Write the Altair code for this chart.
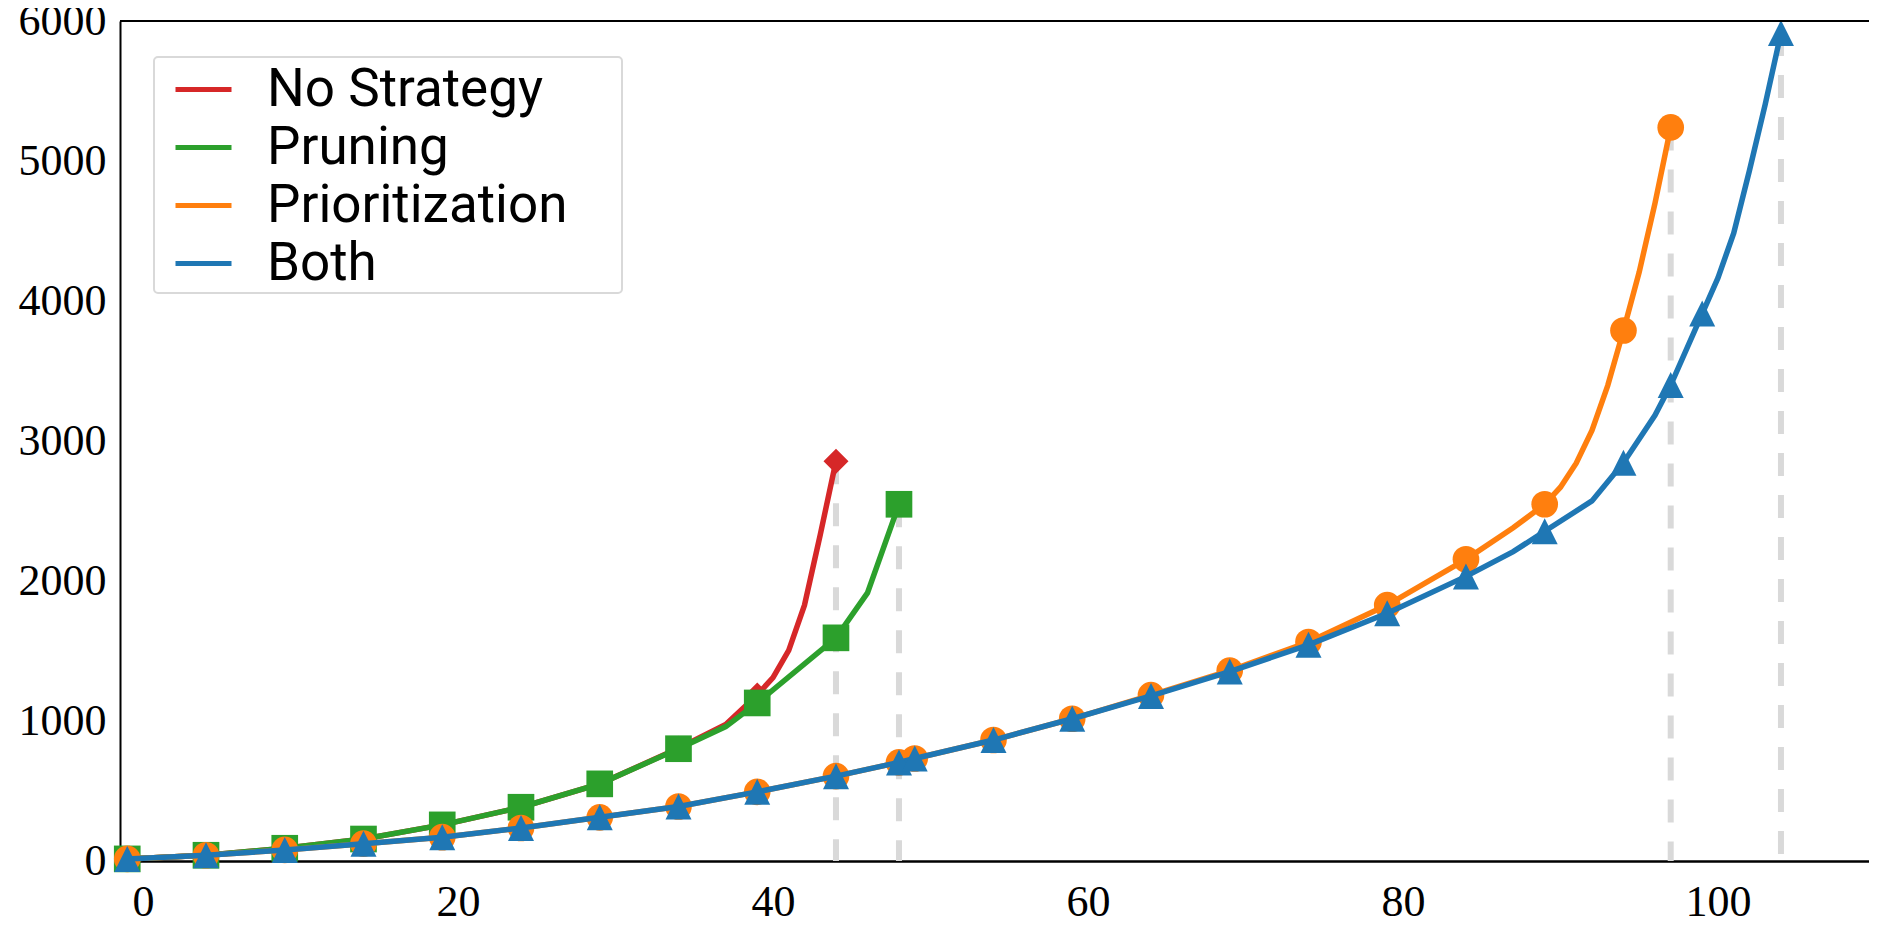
import altair as alt
import pandas as pd

series_names = ["No Strategy", "Pruning", "Prioritization", "Both"]
series_colors = ["#d62728", "#2ca02c", "#ff7f0e", "#1f77b4"]
series_shapes = ["diamond", "square", "circle", "M0,-1L-1,1L1,1Z"]
series_sizes = [625, 711, 711, 676]

red_x = [-1, 4, 9, 14, 19, 24, 29, 34, 37, 39, 40, 41, 42, 43, 44]
red_y = [15, 41, 91, 157, 258, 384, 551, 805, 975, 1186, 1310, 1505, 1827, 2330, 2856]
red_markers = [-1, 4, 9, 14, 19, 24, 29, 34, 39, 44]

green_x = [-1, 4, 9, 14, 19, 24, 29, 34, 37, 39, 44, 46, 48]
green_y = [15, 41, 91, 157, 258, 384, 551, 802, 960, 1129, 1594, 1915, 2548]
green_markers = [-1, 4, 9, 14, 19, 24, 29, 34, 39, 44, 48]

orange_x = [-1, 4, 9, 14, 19, 24, 29, 34, 39, 44, 48, 49, 54, 59, 64, 69, 74, 79,
            84, 87, 89, 90, 91, 92, 93, 94, 95, 96, 97]
orange_y = [15, 41, 79, 124, 170, 236, 312, 389, 494, 606, 704, 732, 864, 1016, 1185,
            1360, 1564, 1828, 2155, 2380, 2548, 2670, 2841, 3076, 3396, 3789, 4207,
            4698, 5240]
orange_markers = [-1, 4, 9, 14, 19, 24, 29, 34, 39, 44, 48, 49, 54, 59, 64, 69, 74,
                  79, 84, 89, 94, 97]

blue_x = [-1, 4, 9, 14, 19, 24, 29, 34, 39, 44, 48, 49, 54, 59, 64, 69, 74, 79, 84,
          87, 89, 92, 94, 96, 97, 99, 100, 101, 102, 103, 104]
blue_y = [15, 41, 79, 124, 170, 236, 312, 389, 494, 606, 704, 732, 864, 1016, 1179,
          1353, 1544, 1770, 2033, 2210, 2355, 2572, 2845, 3183, 3400, 3910, 4165,
          4484, 4932, 5404, 5914]
blue_markers = [-1, 4, 9, 14, 19, 24, 29, 34, 39, 44, 48, 49, 54, 59, 64, 69, 74, 79,
                84, 89, 94, 97, 99, 104]

x_ticks = [0, 20, 40, 60, 80, 100]
y_ticks = [0, 1000, 2000, 3000, 4000, 5000, 6000]

all_x = [red_x, green_x, orange_x, blue_x]
all_y = [red_y, green_y, orange_y, blue_y]
all_m = [red_markers, green_markers, orange_markers, blue_markers]

rows = []
for name, xs, ys, mk in zip(series_names, all_x, all_y, all_m):
    for xv, yv in zip(xs, ys):
        rows.append({"series": name, "x": xv, "y": yv, "marker": xv in mk})
df = pd.DataFrame(rows)
ends = df.groupby("series", sort=False).tail(1).reset_index(drop=True)
ends["y0"] = y_ticks[0]
top = pd.DataFrame({"y": [y_ticks[-1]]})

x_scale = alt.Scale(domain=[-1.46, 109.59], nice=False, zero=False)
y_scale = alt.Scale(domain=[0, 6000], nice=False, zero=False)

x_enc = alt.X("x:Q", scale=x_scale, title=None,
              axis=alt.Axis(values=x_ticks, format="d"))
y_enc = alt.Y("y:Q", scale=y_scale, title=None,
              axis=alt.Axis(values=y_ticks, format="d"))

pad_tail = "\u00a0\u2800"
legend = alt.Legend(
    orient="none", legendX=34, legendY=36, title=None,
    labelFont="Roboto", labelFontSize=53, labelColor="black", labelLimit=2000,
    symbolType="stroke", symbolStrokeWidth=5, symbolSize=3136,
    labelOffset=33, symbolOffset=17, rowPadding=-7,
    labelExpr=f"datum.label + '{pad_tail}'",
)
color_enc = alt.Color("series:N", scale=alt.Scale(domain=series_names, range=series_colors),
                      legend=legend, title=None)

rules = alt.Chart(ends).mark_rule(color="#d9d9d9", strokeWidth=6, strokeDash=[23, 19]).encode(
    x=x_enc, y=y_enc, y2=alt.Y2("y0:Q")
)

layers = [rules]
for name, col, shp, sz in zip(series_names, series_colors, series_shapes, series_sizes):
    sub = alt.Chart(df).transform_filter(alt.datum.series == name)
    line = sub.mark_line(strokeWidth=5.5).encode(x=x_enc, y=y_enc, color=color_enc)
    pts = sub.transform_filter(alt.datum.marker).mark_point(
        filled=True, opacity=1, shape=shp, size=sz, color=col, strokeWidth=0
    ).encode(x=x_enc, y=y_enc)
    layers += [line, pts]

top_rule = alt.Chart(top).mark_rule(color="black", strokeWidth=2).encode(y=y_enc)
layers.append(top_rule)

chart = alt.layer(*layers).properties(
    width=1749, height=840,
    autosize=alt.AutoSizeParams(type="none"),
    padding={"left": 112, "top": 13, "right": 0, "bottom": 70},
).configure_view(stroke=None).configure_axis(
    grid=False, ticks=False, tickSize=0, domainColor="black",
    labelFont="Liberation Serif", labelFontSize=44, labelColor="black",
    labelFlush=False, labelOverlap=False,
).configure_axisX(domainWidth=2.5, labelPadding=19).configure_axisY(
    domainWidth=2, labelPadding=14
).configure_legend(
    fillColor="white", strokeColor="#d9d9d9", strokeWidth=2, cornerRadius=4,
    padding=2,
)

chart.save("out.html", embed_options={"renderer": "svg", "actions": False})
